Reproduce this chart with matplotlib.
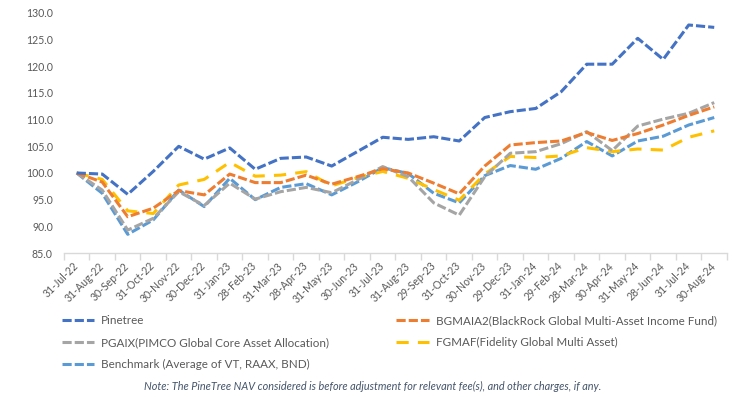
import matplotlib
matplotlib.use('Agg')
import matplotlib.pyplot as plt
import numpy as np

plt.rcParams['font.family'] = ['Lato', 'DejaVu Sans']

# Month-end dates (category axis)
dates = ['31-Jul-22', '31-Aug-22', '30-Sep-22', '31-Oct-22', '30-Nov-22', '30-Dec-22',
         '31-Jan-23', '28-Feb-23', '31-Mar-23', '28-Apr-23', '31-May-23', '30-Jun-23',
         '31-Jul-23', '31-Aug-23', '29-Sep-23', '31-Oct-23', '30-Nov-23', '29-Dec-23',
         '31-Jan-24', '29-Feb-24', '28-Mar-24', '30-Apr-24', '31-May-24', '28-Jun-24',
         '31-Jul-24', '30-Aug-24']

# Indexed NAV values (start = 100)
pinetree = [100.0, 99.8, 96.0, 100.3, 105.0, 102.6, 104.7, 100.7, 102.75, 103.0, 101.3, 104.0,
            106.7, 106.3, 106.8, 106.0, 110.4, 111.5, 112.1, 115.25, 120.4, 120.4, 125.25, 121.3,
            127.75, 127.3]
bgmaia2 = [100.0, 98.3, 91.8, 93.4, 96.7, 95.9, 99.8, 98.2, 98.2, 99.6, 97.9, 99.3,
           100.8, 100.0, 98.1, 96.1, 101.3, 105.25, 105.7, 106.0, 107.6, 106.1, 107.4, 109.0,
           110.8, 112.4]
pgaix = [100.0, 96.8, 89.3, 91.5, 96.5, 93.9, 98.1, 95.1, 96.5, 97.3, 96.3, 98.7,
         101.2, 99.3, 94.4, 92.1, 99.3, 103.7, 104.0, 105.5, 107.75, 104.2, 108.8, 110.1,
         111.2, 113.2]
fgmaf = [100.0, 98.8, 92.9, 92.4, 97.75, 98.8, 102.0, 99.4, 99.6, 100.25, 97.6, 99.1,
         100.3, 99.0, 96.9, 94.9, 99.8, 103.1, 102.9, 103.2, 104.75, 104.0, 104.5, 104.3,
         106.7, 107.9]
benchmark = [100.0, 96.2, 88.5, 91.2, 96.8, 93.7, 99.0, 95.0, 97.3, 98.0, 95.9, 98.3,
             101.0, 99.9, 96.2, 94.4, 99.5, 101.4, 100.7, 102.75, 105.9, 103.2, 106.0, 106.9,
             109.0, 110.4]

labels = {
    'pinetree': 'Pinetree',
    'bgmaia2': 'BGMAIA2(BlackRock Global Multi-Asset Income Fund)',
    'pgaix': 'PGAIX(PIMCO Global Core Asset Allocation)',
    'fgmaf': 'FGMAF(Fidelity Global Multi Asset)',
    'benchmark': 'Benchmark (Average of VT, RAAX, BND)',
}

fig = plt.figure(figsize=(7.5, 3.97), dpi=100)
ax = fig.add_axes([0.0853, 0.3627, 0.884, 0.6046])

x = np.arange(len(dates))
lw = 2.2
short = (3, 1)
long_ = (4, 3)

# draw order: back to front
l_bench, = ax.plot(x, benchmark, color='#5B9BD5', lw=lw, dashes=short, label=labels['benchmark'])
l_fgmaf, = ax.plot(x, fgmaf, color='#FFC000', lw=lw, dashes=long_, label=labels['fgmaf'])
l_pgaix, = ax.plot(x, pgaix, color='#A5A5A5', lw=lw, dashes=short, label=labels['pgaix'])
l_bgm, = ax.plot(x, bgmaia2, color='#ED7D31', lw=lw, dashes=short, label=labels['bgmaia2'])
l_pine, = ax.plot(x, pinetree, color='#4472C4', lw=lw, dashes=short, label=labels['pinetree'])

ax.set_xlim(-0.5, len(dates) - 0.5)
ax.set_ylim(85, 130)
ax.set_yticks(np.arange(85, 131, 5))
ax.set_yticklabels([f'{v:.1f}' for v in np.arange(85, 131, 5)])

ax.set_xticks(x)
ax.set_xticklabels(dates, rotation=45, ha='right', rotation_mode='anchor', va='center')
ax.set_xticks(np.arange(-0.5, len(dates), 1), minor=True)
ax.tick_params(axis='x', which='major', length=0, pad=8, labelsize=7.6, labelcolor='#595959')
ax.tick_params(axis='x', which='minor', length=5, color='#D9D9D9', width=1)
ax.tick_params(axis='y', length=0, pad=8, labelsize=7.6, labelcolor='#595959')

for s in ['top', 'right', 'left']:
    ax.spines[s].set_visible(False)
ax.spines['bottom'].set_color('#D9D9D9')
ax.spines['bottom'].set_linewidth(1)

leg_kw = dict(frameon=False, fontsize=8.4, handlelength=2.8, handletextpad=0.6,
              labelspacing=0.95, borderaxespad=0, borderpad=0, labelcolor='#595959')
leg1 = fig.legend(handles=[l_pine, l_pgaix, l_bench], loc='upper left',
                  bbox_to_anchor=(0.082, 0.207), **leg_kw)
leg2 = fig.legend(handles=[l_bgm, l_fgmaf], loc='upper left',
                  bbox_to_anchor=(0.528, 0.207), **leg_kw)

fig.text(0.497, 0.026, 'Note: The PineTree NAV considered is before adjustment for relevant fee(s), '
         'and other charges, if any.', ha='center', va='center', fontsize=7.85,
         style='italic', color='#44546A')

fig.savefig('out.png', dpi=100)
